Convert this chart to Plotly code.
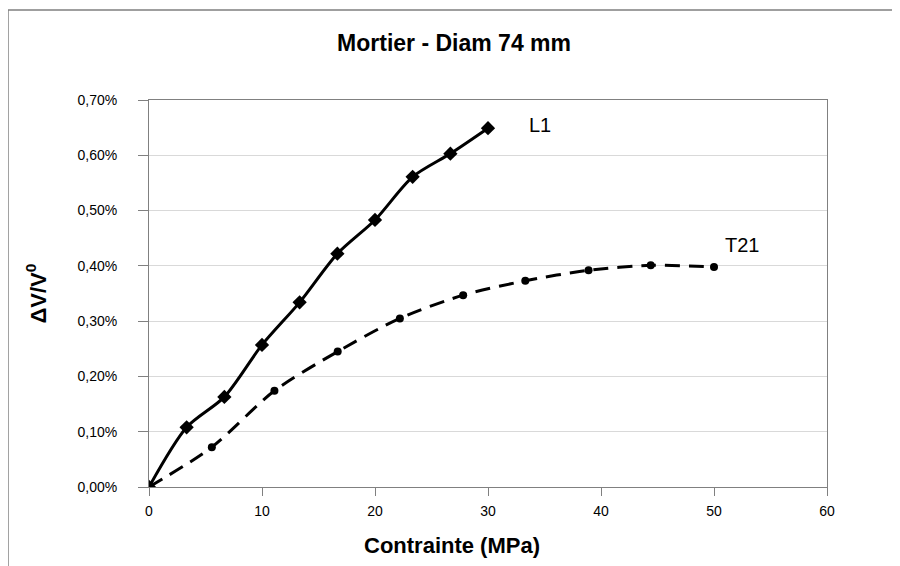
import plotly.graph_objects as go

# Data
l1_x = [0, 3.33, 6.67, 10, 13.33, 16.67, 20, 23.33, 26.67, 30]
l1_y = [0.0, 0.108, 0.163, 0.257, 0.334, 0.422, 0.483, 0.561, 0.603, 0.649]  # percent
t21_x = [0, 5.56, 11.1, 16.7, 22.2, 27.8, 33.3, 38.9, 44.4, 50]
t21_y = [0.0, 0.072, 0.174, 0.245, 0.305, 0.347, 0.373, 0.392, 0.401, 0.398]  # percent
y_ticks = [0, 0.1, 0.2, 0.3, 0.4, 0.5, 0.6, 0.7]
x_ticks = [0, 10, 20, 30, 40, 50, 60]

def frac(v):
    return [a / 100 for a in v]

FONT = "Liberation Sans, Arial, sans-serif"

fig = go.Figure()
fig.add_trace(go.Scatter(
    x=l1_x, y=frac(l1_y), mode="lines+markers", name="L1",
    line=dict(color="black", width=3, shape="spline", smoothing=0.8),
    marker=dict(symbol="diamond", size=11, color="black"),
))
fig.add_trace(go.Scatter(
    x=t21_x, y=frac(t21_y), mode="lines+markers", name="T21",
    line=dict(color="black", width=3, dash="15px,9px", shape="spline", smoothing=0.8),
    marker=dict(symbol="circle", size=8, color="black"),
))

fig.add_annotation(x=34.6, y=0.00655, text="L1", showarrow=False,
                   font=dict(family=FONT, size=20, color="black"))
fig.add_annotation(x=52.5, y=0.00438, text="T21", showarrow=False,
                   font=dict(family=FONT, size=20, color="black"))

# axis titles
fig.add_annotation(xref="paper", yref="paper", x=0.447, y=-0.15,
                   text="<b>Contrainte (MPa)</b>", showarrow=False,
                   xanchor="center", yanchor="middle",
                   font=dict(family=FONT, size=22, color="black"))
fig.add_annotation(xref="paper", yref="paper", x=-0.1667, y=0.5,
                   text="<b>ΔV/V<sup>0</sup></b>", showarrow=False, textangle=-90,
                   xanchor="center", yanchor="middle",
                   font=dict(family=FONT, size=22, color="black"))

# outer chart frame (top and left edges visible)
fig.add_shape(type="line", xref="paper", yref="paper", x0=-0.208, x1=1.5,
              y0=1.2326, y1=1.2326, line=dict(color="#7f7f7f", width=1.5))
fig.add_shape(type="line", xref="paper", yref="paper", x0=-0.208, x1=-0.208,
              y0=1.2326, y1=-0.5, line=dict(color="#7f7f7f", width=1.5))

fig.update_layout(
    width=900, height=566,
    margin=dict(l=141, r=81, t=92, b=87),
    paper_bgcolor="white", plot_bgcolor="white",
    showlegend=False,
    separators=", ",
    title=dict(text="<b>Mortier - Diam 74 mm</b>", x=0.4956, xanchor="center",
               y=1 - 35 / 566, yanchor="middle",
               font=dict(family=FONT, size=23, color="black")),
    font=dict(family=FONT, color="black"),
)
fig.update_xaxes(
    range=[0, 60], tickvals=x_ticks, showgrid=False, zeroline=False,
    showline=True, linecolor="#808080", linewidth=1, mirror=True,
    ticks="outside", ticklen=8, tickcolor="#808080",
    ticklabelstandoff=3,
    tickfont=dict(family=FONT, size=14, color="black"),
)
fig.update_yaxes(
    range=[0, 0.007], tickvals=frac(y_ticks), tickformat=".2%",
    showgrid=True, gridcolor="#d9d9d9", gridwidth=1, zeroline=False,
    showline=True, linecolor="#808080", linewidth=1, mirror=True,
    ticks="outside", ticklen=10, tickcolor="#808080",
    ticklabelstandoff=18,
    tickfont=dict(family=FONT, size=14, color="black"),
)

fig.write_html("out.html")
